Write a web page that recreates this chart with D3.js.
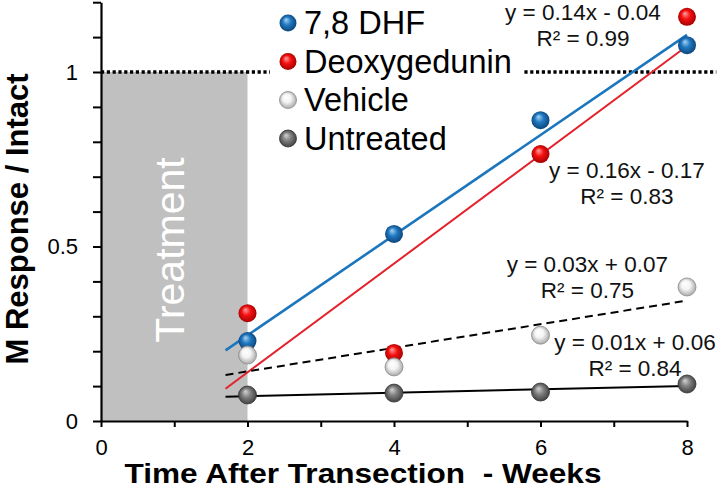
<!DOCTYPE html>
<html>
<head>
<meta charset="utf-8">
<script src="https://cdn.jsdelivr.net/npm/d3@7"></script>
<style>
body { margin: 0; background: #fff; }
text { font-family: "Liberation Sans", Arial, sans-serif; }
</style>
</head>
<body>
<div id="chart"></div>
<script>
// values
var weeks = [2, 4, 6, 8];
var dhf = [0.229, 0.536, 0.862, 1.077];
var deoxy = [0.309, 0.195, 0.765, 1.158];
var vehicle = [0.189, 0.155, 0.246, 0.384];
var untreated = [0.0745, 0.080, 0.083, 0.106];
var seriesNames = ["7,8 DHF", "Deoxygedunin", "Vehicle", "Untreated"];
var equations = ["y = 0.14x - 0.04", "y = 0.16x - 0.17", "y = 0.03x + 0.07", "y = 0.01x + 0.06"];
var rsq = ["R\u00b2 = 0.99", "R\u00b2 = 0.83", "R\u00b2 = 0.75", "R\u00b2 = 0.84"];
var xTicks = [0, 1, 2, 3, 4, 5, 6, 7, 8];
var yTicks = [0, 0.1, 0.2, 0.3, 0.4, 0.5, 0.6, 0.7, 0.8, 0.9, 1.0, 1.1, 1.2];
var yLabelled = [0, 0.5, 1];

var W = 722, H = 490;
var svg = d3.select("#chart").append("svg").attr("width", W).attr("height", H);

var x = d3.scaleLinear().domain([0, 8]).range([101, 687]);
var y = d3.scaleLinear().domain([0, 1.2]).range([421, 2.2]);

// sphere gradients
var defs = svg.append("defs");
var looks = [
    {id: "gBlue", hi: "#a8d4f6", mid: "#1f78c0", lo: "#0c3f72", edge: "none"},
    {id: "gRed", hi: "#ffa0a0", mid: "#f51010", lo: "#9a0000", edge: "none"},
    {id: "gWhite", hi: "#ffffff", mid: "#f4f4f4", lo: "#a0a0a0", edge: "#8a8a8a"},
    {id: "gGray", hi: "#d4d4d4", mid: "#808080", lo: "#3a3a3a", edge: "#333"}
];
looks.forEach(function(l) {
    var g = defs.append("radialGradient").attr("id", l.id)
        .attr("cx", "50%").attr("cy", "50%").attr("r", "55%")
        .attr("fx", "38%").attr("fy", "30%");
    g.append("stop").attr("offset", "0%").attr("stop-color", l.hi);
    g.append("stop").attr("offset", "45%").attr("stop-color", l.mid);
    g.append("stop").attr("offset", "100%").attr("stop-color", l.lo);
});

var series = [
    {vals: dhf, look: looks[0], color: "#1b76bd", width: 2.6, dash: null, lab: [6.58, 1.149]},
    {vals: deoxy, look: looks[1], color: "#e3222b", width: 2.0, dash: null, lab: [7.18, 0.696]},
    {vals: vehicle, look: looks[2], color: "#000", width: 2.0, dash: "8,5", lab: [6.64, 0.427]},
    {vals: untreated, look: looks[3], color: "#000", width: 2.0, dash: null, lab: [7.29, 0.203]}
];

// treatment window
svg.append("rect")
    .attr("x", x(0)).attr("y", y(1))
    .attr("width", x(2) - x(0)).attr("height", y(0) - y(1))
    .attr("fill", "#c0c0c0");

svg.append("text")
    .attr("transform", "translate(184," + y(0.49) + ") rotate(-90)")
    .attr("text-anchor", "middle")
    .attr("font-size", 41)
    .attr("fill", "#fff")
    .text("Treatment");

// intact level
svg.append("line")
    .attr("x1", x(0)).attr("x2", x(8.4))
    .attr("y1", y(1)).attr("y2", y(1))
    .attr("stroke", "#000").attr("stroke-width", 3.4)
    .attr("stroke-dasharray", "3.2,2.6");

// least squares fits
function fit(xs, ys) {
    var mx = d3.mean(xs), my = d3.mean(ys);
    var sxy = d3.sum(xs, function(v, i) { return (v - mx) * (ys[i] - my); });
    var sxx = d3.sum(xs, function(v) { return (v - mx) * (v - mx); });
    var b = sxy / sxx;
    return [b, my - b * mx];
}

// legend box hides the dotted line behind it
svg.append("rect").attr("x", 270).attr("y", 0).attr("width", 253).attr("height", 140).attr("fill", "#fff");

series.forEach(function(s) {
    var f = fit(weeks, s.vals);
    var p = svg.append("line")
        .attr("x1", x(1.7)).attr("y1", y(f[0] * 1.7 + f[1]))
        .attr("x2", x(8)).attr("y2", y(f[0] * 8 + f[1]))
        .attr("stroke", s.color).attr("stroke-width", s.width);
    if (s.dash) p.attr("stroke-dasharray", s.dash);
});

// axes
var yAxis = d3.axisLeft(y).tickValues(yTicks).tickSize(8).tickSizeOuter(0)
    .tickFormat(function(d) { return yLabelled.some(function(v) { return Math.abs(v - d) < 1e-6; }) ? d3.format("")(+d.toFixed(1)) : ""; });
var gy = svg.append("g").attr("transform", "translate(" + x(0) + ",0)").call(yAxis);
gy.selectAll("text").attr("font-size", 22).attr("x", -23).attr("fill", "#000");

var xAxis = d3.axisBottom(x).tickValues(xTicks).tickSize(6).tickSizeOuter(0)
    .tickFormat(function(d) { return d % 2 === 0 ? d : ""; });
var gx = svg.append("g").attr("transform", "translate(0," + y(0) + ")").call(xAxis);
gx.selectAll("text").attr("font-size", 22).attr("y", 18).attr("fill", "#000");

[gx, gy].forEach(function(g) {
    g.select(".domain").attr("stroke-width", 2.2);
    g.selectAll(".tick line").attr("stroke-width", 2);
    g.selectAll("text").attr("font-family", "Liberation Sans, Arial, sans-serif");
});

// markers
series.forEach(function(s) {
    svg.selectAll(null).data(s.vals).enter().append("circle")
        .attr("cx", function(d, i) { return x(weeks[i]); })
        .attr("cy", function(d) { return y(d); })
        .attr("r", 9)
        .attr("fill", "url(#" + s.look.id + ")")
        .attr("stroke", s.look.edge).attr("stroke-width", 0.8);
});

// equations
series.forEach(function(s, i) {
    var t = svg.append("text").attr("text-anchor", "middle").attr("font-size", 22.5).attr("fill", "#111");
    t.append("tspan").attr("x", x(s.lab[0])).attr("y", y(s.lab[1])).text(equations[i]);
    t.append("tspan").attr("x", x(s.lab[0])).attr("dy", 26).text(rsq[i]);
});

// legend
var leg = svg.append("g");
seriesNames.forEach(function(name, i) {
    var cy = 23 + i * 38.5;
    leg.append("circle").attr("cx", 288).attr("cy", cy).attr("r", 8.5)
        .attr("fill", "url(#" + looks[i].id + ")")
        .attr("stroke", looks[i].edge).attr("stroke-width", 0.8);
    leg.append("text").attr("x", 304).attr("y", cy + 11).attr("font-size", 32.5).attr("fill", "#000").text(name);
});

// axis titles
svg.append("text")
    .attr("x", 363).attr("y", 483)
    .attr("text-anchor", "middle").attr("font-size", 27).attr("font-weight", "bold")
    .attr("textLength", 477).attr("lengthAdjust", "spacingAndGlyphs")
    .style("white-space", "pre")
    .text("Time After Transection  - Weeks");

svg.append("text")
    .attr("transform", "translate(28,219) rotate(-90)")
    .attr("text-anchor", "middle").attr("font-size", 31).attr("font-weight", "bold")
    .text("M Response / Intact");
</script>
</body>
</html>
